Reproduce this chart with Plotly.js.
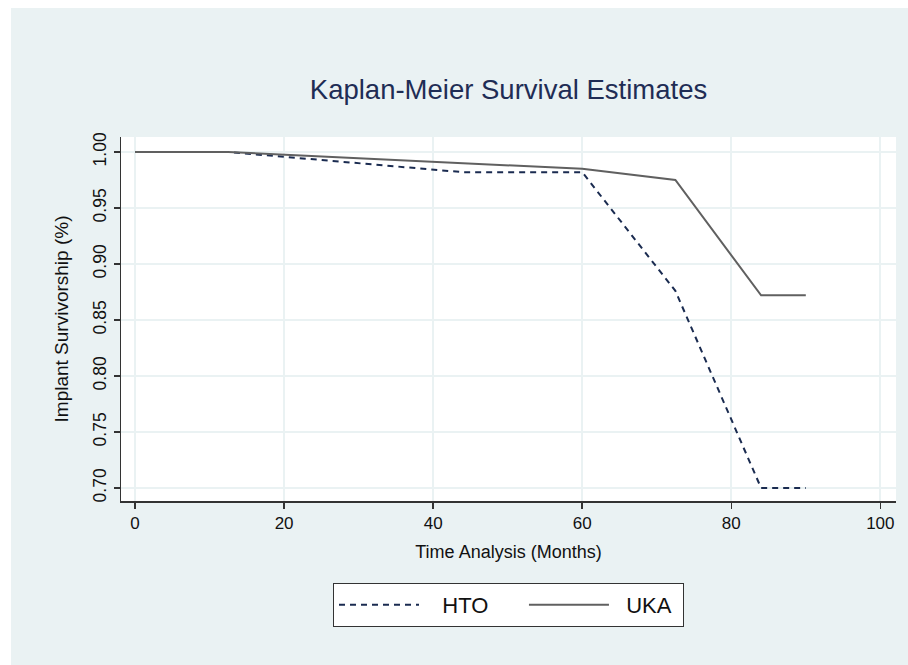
<!DOCTYPE html>
<html>
<head>
<meta charset="utf-8">
<script src="https://cdn.plot.ly/plotly-3.0.1.min.js"></script>
<style>html,body{margin:0;padding:0;background:#fff;}#chart{width:908px;height:665px;}</style>
</head>
<body>
<div id="chart"></div>
<script>
// Data
const seriesNames = ["HTO", "UKA"];
const timeHTO = [0, 12.5, 44, 60, 72.5, 84, 90];
const survHTO = [1.000, 1.000, 0.982, 0.982, 0.876, 0.700, 0.700];
const timeUKA = [0, 12.5, 60, 72.5, 84, 90];
const survUKA = [1.000, 1.000, 0.985, 0.975, 0.872, 0.872];
const xTicks = [0, 20, 40, 60, 80, 100];
const yTicks = [0.70, 0.75, 0.80, 0.85, 0.90, 0.95, 1.00];

const FONT = "Liberation Sans, Arial, Helvetica, sans-serif";
const BG = "#EAF2F3";
const NB = "\u00a0";

const traces = [
  {x: timeHTO, y: survHTO, name: NB.repeat(3) + seriesNames[0] + NB.repeat(5), type: "scatter", mode: "lines",
   line: {color: "#1a2b50", width: 2, dash: "6px,5px"}},
  {x: timeUKA, y: survUKA, name: NB.repeat(2) + seriesNames[1] + NB, type: "scatter", mode: "lines",
   line: {color: "#606060", width: 2}}
];

const layout = {
  width: 908, height: 665,
  paper_bgcolor: BG, plot_bgcolor: "#ffffff",
  margin: {l: 121, r: 12, t: 137, b: 164, pad: 0},
  font: {family: FONT, color: "#111"},
  title: {text: "Kaplan-Meier Survival Estimates", font: {family: FONT, size: 27.5, color: "#1f2d55"},
          x: 0.5, xref: "paper", xanchor: "center", y: 1 - 89/665, yref: "container", yanchor: "middle"},
  xaxis: {range: [-1.88, 102.1], tickvals: xTicks, ticktext: xTicks.map(String),
          showgrid: true, gridcolor: BG, gridwidth: 2, zeroline: false,
          showline: true, linecolor: "#333", linewidth: 1.5,
          ticks: "outside", ticklen: 6, tickcolor: "#333", tickwidth: 1.5,
          tickfont: {size: 17, color: "#111"},
          title: {text: "Time Analysis (Months)", font: {size: 18, color: "#111"}, standoff: 13}},
  yaxis: {range: [0.6884, 1.0134], tickvals: yTicks, ticktext: yTicks.map(v => v.toFixed(2)),
          tickangle: -90, ticklabelstandoff: 1,
          showgrid: true, gridcolor: BG, gridwidth: 2, zeroline: false,
          showline: true, linecolor: "#333", linewidth: 1.5,
          ticks: "outside", ticklen: 6, tickcolor: "#333", tickwidth: 1.5,
          tickfont: {size: 17.5, color: "#111"},
          title: {text: "Implant Survivorship (%)", font: {size: 19, color: "#111"}, standoff: 16}},
  showlegend: true,
  legend: {orientation: "h", x: 0.5, xanchor: "center", y: -0.2253, yanchor: "top",
           bgcolor: "#ffffff", bordercolor: "#333", borderwidth: 1,
           font: {size: 22, color: "#111"}, itemwidth: 80, tracegroupgap: 0},
  shapes: [
    {type: "rect", xref: "paper", yref: "paper", x0: -0.2, x1: (11-121)/775, y0: -0.5, y1: 1.4,
     fillcolor: "#ffffff", line: {width: 0}, layer: "above"},
    {type: "rect", xref: "paper", yref: "paper", x0: -0.2, x1: 1.1, y0: (501-8)/364, y1: 1.4,
     fillcolor: "#ffffff", line: {width: 0}, layer: "above"}
  ]
};

Plotly.newPlot("chart", traces, layout, {displayModeBar: false, staticPlot: true});
</script>
</body>
</html>
